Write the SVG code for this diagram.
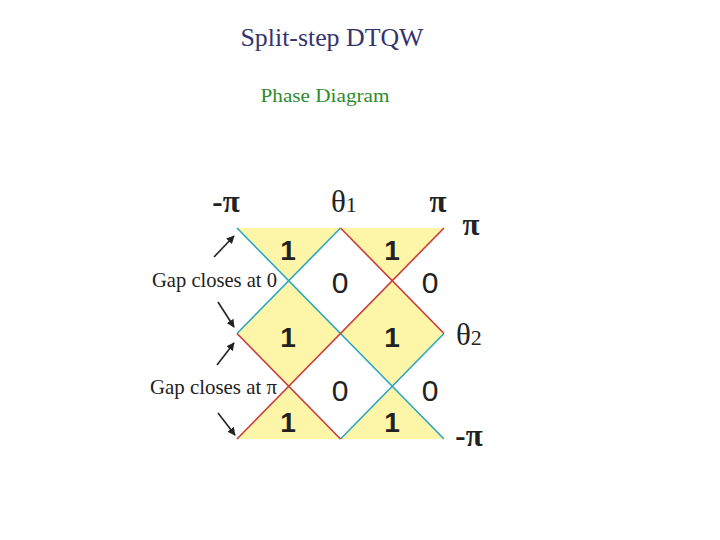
<svg xmlns="http://www.w3.org/2000/svg" width="720" height="540" viewBox="0 0 720 540">
<defs>
<style>
.serif{font-family:"Liberation Serif","Times New Roman",serif;fill:#222}
.num{font-family:"Liberation Sans",Arial,sans-serif;fill:#222;text-anchor:middle}
.one{font-weight:bold;font-size:28px}
.zero{font-size:30px}
.yel{fill:#fdf5a8;stroke:none}
.cy{stroke:#2aa6c6;stroke-width:1.6;fill:none}
.rd{stroke:#cc3b3b;stroke-width:1.6;fill:none}
.arr{stroke:#222;stroke-width:1.6;fill:none;marker-end:url(#ah)}
.gap{font-size:21.5px}
.big{font-size:31px}
</style>
<marker id="ah" viewBox="0 0 10 10" refX="9" refY="5" markerWidth="5" markerHeight="5" orient="auto" markerUnits="strokeWidth">
<path d="M0,0 L10,5 L0,10 z" fill="#222"/>
</marker>
</defs>
<rect width="720" height="540" fill="#fff"/>
<g id="title">
<text x="332" y="46" font-family="Liberation Serif, serif" font-size="25" fill="#35336e" text-anchor="middle" textLength="183" lengthAdjust="spacingAndGlyphs">Split-step DTQW</text>
<text x="325" y="102" font-family="Liberation Serif, serif" font-size="19" fill="#2e8b2e" text-anchor="middle" textLength="129" lengthAdjust="spacingAndGlyphs">Phase Diagram</text>
</g>
<g id="regions">
<polygon class="yel" points="237,228 340.5,228 288.75,280.75"/>
<polygon class="yel" points="340.5,228 444,228 392.25,280.75"/>
<polygon class="yel" points="288.75,280.75 340.5,333.5 288.75,386.25 237,333.5"/>
<polygon class="yel" points="392.25,280.75 444,333.5 392.25,386.25 340.5,333.5"/>
<polygon class="yel" points="288.75,386.25 340.5,439 237,439"/>
<polygon class="yel" points="392.25,386.25 444,439 340.5,439"/>
</g>
<g id="connectors">
<line class="cy" x1="237" y1="228" x2="444" y2="439"/>
<line class="cy" x1="340.5" y1="228" x2="237" y2="333.5"/>
<line class="cy" x1="444" y1="333.5" x2="340.5" y2="439"/>
<line class="rd" x1="444" y1="228" x2="237" y2="439"/>
<line class="rd" x1="340.5" y1="228" x2="444" y2="333.5"/>
<line class="rd" x1="237" y1="333.5" x2="340.5" y2="439"/>
<line class="arr" x1="214" y1="257" x2="234" y2="236"/>
<line class="arr" x1="218" y1="302" x2="234" y2="327"/>
<line class="arr" x1="217" y1="365" x2="234" y2="343"/>
<line class="arr" x1="218" y1="413" x2="235" y2="435"/>
</g>
<g id="phase-labels">
<text class="num one" x="288" y="260">1</text>
<text class="num one" x="392" y="260">1</text>
<text class="num one" x="288" y="347">1</text>
<text class="num one" x="392" y="347">1</text>
<text class="num one" x="288" y="432">1</text>
<text class="num one" x="392" y="432">1</text>
<text class="num zero" x="340" y="293">0</text>
<text class="num zero" x="430" y="293">0</text>
<text class="num zero" x="340" y="401">0</text>
<text class="num zero" x="430" y="401">0</text>
</g>
<g id="axis-labels">
<text class="serif big" x="226" y="212" text-anchor="middle" font-weight="bold">-π</text>
<text class="serif big" x="331" y="212">θ<tspan font-size="22">1</tspan></text>
<text class="serif big" x="438" y="212" text-anchor="middle" font-weight="bold">π</text>
<text class="serif big" x="471" y="235" text-anchor="middle" font-weight="bold">π</text>
<text class="serif big" x="456" y="345">θ<tspan font-size="22">2</tspan></text>
<text class="serif big" x="469" y="446" text-anchor="middle" font-weight="bold">-π</text>
</g>
<g id="gap-labels">
<text class="serif gap" x="277" y="287" text-anchor="end" textLength="125" lengthAdjust="spacingAndGlyphs">Gap closes at 0</text>
<text class="serif gap" x="277" y="394" text-anchor="end" textLength="127" lengthAdjust="spacingAndGlyphs">Gap closes at π</text>
</g>
</svg>
